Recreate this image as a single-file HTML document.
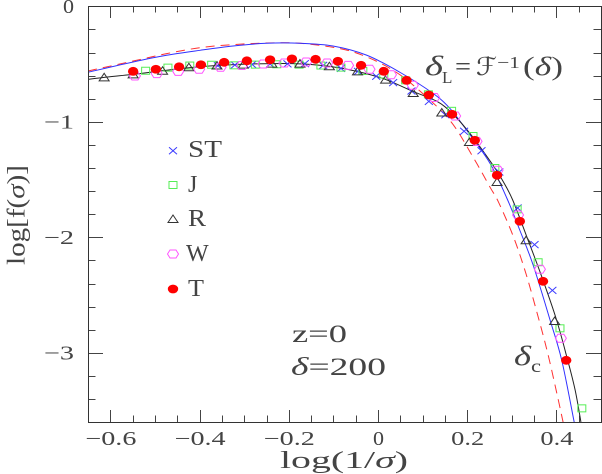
<!DOCTYPE html>
<html>
<head>
<meta charset="utf-8">
<title>log f(sigma) chart</title>
<style>
html,body{margin:0;padding:0;background:#fff;}
svg{display:block;}
text{font-family:"Liberation Serif",serif;fill:#444;}
</style>
</head>
<body>
<svg id="chart" xmlns="http://www.w3.org/2000/svg" width="602" height="474" viewBox="0 0 602 474">
<rect x="0" y="0" width="602" height="474" fill="#fff"/>
<g id="ticks"></g>
<g id="curves" clip-path="url(#plot-clip)"></g>
<g id="points"></g>
<rect x="88.5" y="6.5" width="513" height="416" fill="none" stroke="#333" stroke-width="1"/>
<g id="tick-labels"></g>

<text x="280" y="468" font-size="24" textLength="128" lengthAdjust="spacingAndGlyphs">log(1/<tspan font-style="italic">σ</tspan>)</text>
<text transform="translate(24.5,265) rotate(-90)" font-size="25" textLength="100" lengthAdjust="spacingAndGlyphs">log[f(<tspan font-style="italic">σ</tspan>)]</text>

<g id="legend">
<text x="188" y="157" font-size="24" textLength="34" lengthAdjust="spacingAndGlyphs">ST</text>
<text x="188" y="192" font-size="24">J</text>
<text x="188" y="226" font-size="24" textLength="18" lengthAdjust="spacingAndGlyphs">R</text>
<text x="186" y="261" font-size="24">W</text>
<text x="188" y="296" font-size="24" textLength="16" lengthAdjust="spacingAndGlyphs">T</text>
</g>

<g>
<text x="425" y="75" font-size="27" font-style="italic" textLength="18" lengthAdjust="spacingAndGlyphs">δ</text>
<text x="442" y="83" font-size="17">L</text>
<text x="455" y="75" font-size="26" textLength="16" lengthAdjust="spacingAndGlyphs">=</text>
<text x="476" y="75" font-size="25" style="font-family:'DejaVu Serif','DejaVu Sans',serif" font-style="italic" textLength="21" lengthAdjust="spacingAndGlyphs">ℱ</text>
<text x="497" y="68" font-size="17" textLength="23" lengthAdjust="spacingAndGlyphs">−1</text>
<text x="523" y="75" font-size="26" textLength="40" lengthAdjust="spacingAndGlyphs">(<tspan font-style="italic">δ</tspan>)</text>
</g>
<g>
<text x="514" y="365" font-size="27" font-style="italic" textLength="17" lengthAdjust="spacingAndGlyphs">δ</text>
<text x="531" y="372" font-size="18" textLength="10" lengthAdjust="spacingAndGlyphs">c</text>
</g>
<text x="292" y="342" font-size="25" textLength="55" lengthAdjust="spacingAndGlyphs">z=0</text>
<text x="291" y="375" font-size="25" textLength="95" lengthAdjust="spacingAndGlyphs"><tspan font-style="italic">δ</tspan>=200</text>
<defs><clipPath id="plot-clip"><rect x="88" y="6" width="514" height="416.5"/></clipPath></defs>
</svg>
<script>
// Axis tick values and labels
const xTickLabels = ["−0.6", "−0.4", "−0.2", "0", "0.2", "0.4"];
const xTickValues = [-0.6, -0.4, -0.2, 0, 0.2, 0.4];
const yTickLabels = ["0", "−1", "−2", "−3"];
const yTickValues = [0, -1, -2, -3];

// Fitted curves: log(1/sigma), log f(sigma)
const blackCurveX = [-0.650,-0.614,-0.549,-0.484,-0.424,-0.361,-0.303,-0.238,-0.175,-0.110,-0.047,0.016,0.078,0.132,0.166,0.206,0.258,0.280,0.302,0.333,0.365,0.399,0.424,0.442,0.455];
const blackCurveY = [-0.632,-0.615,-0.589,-0.558,-0.532,-0.513,-0.502,-0.496,-0.498,-0.519,-0.563,-0.632,-0.736,-0.823,-0.926,-1.100,-1.377,-1.513,-1.677,-1.989,-2.318,-2.699,-3.045,-3.322,-3.599];
const blueCurveX = [-0.650,-0.549,-0.474,-0.399,-0.325,-0.250,-0.175,-0.101,-0.025,0.049,0.123,0.161,0.199,0.251,0.289,0.318,0.348,0.386,0.412,0.440];
const blueCurveY = [-0.571,-0.482,-0.424,-0.381,-0.344,-0.320,-0.320,-0.344,-0.424,-0.571,-0.753,-0.883,-1.074,-1.359,-1.662,-1.939,-2.242,-2.719,-3.065,-3.602];
const redCurveX = [-0.650,-0.549,-0.474,-0.399,-0.325,-0.250,-0.175,-0.085,-0.025,0.034,0.087,0.161,0.213,0.251,0.270,0.303,0.332,0.361,0.381,0.401,0.415];
const redCurveY = [-0.560,-0.474,-0.410,-0.358,-0.332,-0.318,-0.320,-0.366,-0.439,-0.554,-0.710,-0.987,-1.305,-1.565,-1.694,-1.989,-2.318,-2.716,-3.011,-3.351,-3.600];

// Point series
const stX = [-0.359,-0.321,-0.282,-0.242,-0.203,-0.164,-0.123,-0.083,-0.045,-0.004,0.034,0.075,0.114,0.151,0.193,0.232,0.272,0.313,0.351,0.391];
const stY = [-0.515,-0.508,-0.504,-0.500,-0.498,-0.496,-0.511,-0.537,-0.563,-0.606,-0.661,-0.733,-0.823,-0.939,-1.082,-1.251,-1.435,-1.746,-2.063,-2.459];
const jX = [-0.521,-0.471,-0.422,-0.373,-0.323,-0.275,-0.227,-0.177,-0.128,-0.083,-0.034,0.013,0.062,0.113,0.165,0.213,0.262,0.312,0.359,0.408,0.457];
const jY = [-0.558,-0.531,-0.513,-0.506,-0.511,-0.505,-0.502,-0.505,-0.513,-0.531,-0.560,-0.591,-0.641,-0.762,-0.905,-1.123,-1.400,-1.758,-2.216,-2.788,-3.481];
const rX = [-0.614,-0.549,-0.483,-0.424,-0.361,-0.302,-0.238,-0.175,-0.109,-0.046,0.017,0.079,0.143,0.205,0.267,0.332,0.396];
const rY = [-0.615,-0.589,-0.558,-0.528,-0.513,-0.505,-0.496,-0.496,-0.519,-0.563,-0.635,-0.751,-0.920,-1.175,-1.521,-2.026,-2.725];
const wX = [-0.545,-0.496,-0.448,-0.401,-0.353,-0.305,-0.257,-0.210,-0.161,-0.114,-0.067,-0.019,0.029,0.078,0.126,0.173,0.221,0.268,0.314,0.363,0.410];
const wY = [-0.603,-0.583,-0.563,-0.545,-0.528,-0.513,-0.500,-0.491,-0.482,-0.491,-0.511,-0.545,-0.593,-0.684,-0.790,-0.950,-1.169,-1.420,-1.807,-2.277,-2.874];
const tX = [-0.549,-0.498,-0.446,-0.397,-0.345,-0.294,-0.242,-0.193,-0.140,-0.090,-0.038,0.013,0.064,0.114,0.166,0.217,0.267,0.318,0.370,0.422];
const tY = [-0.563,-0.545,-0.524,-0.506,-0.485,-0.472,-0.463,-0.455,-0.459,-0.476,-0.511,-0.563,-0.641,-0.768,-0.935,-1.160,-1.463,-1.861,-2.381,-3.065];

const NS = 'http://www.w3.org/2000/svg';
const sx = v => 378 + 446 * v;
const sy = v => 6.3 - 115.5 * v;
function make(parent, tag, attrs) {
  const el = document.createElementNS(NS, tag);
  for (const k in attrs) el.setAttribute(k, attrs[k]);
  parent.appendChild(el);
  return el;
}

// Ticks
const ticksG = document.getElementById('ticks');
function tickSeg(x1, y1, x2, y2) {
  const t = make(ticksG, 'line', {x1: x1, y1: y1, x2: x2, y2: y2, stroke: '#444', 'stroke-width': 1});
  
  
}
for (let i = -13; i <= 10; i++) {
  const px = Math.round(sx(i * 0.05)) + 0.5;
  const len = (i % 4 === 0) ? 12 : 6.5;
  tickSeg(px, 422, px, 422 - len);
  tickSeg(px, 6, px, 6 + len);
}
for (let i = 1; i <= 18; i++) {
  const py = Math.round(sy(-i * 0.2)) + 0.5;
  const len = (i % 5 === 0) ? 15 : 7.5;
  tickSeg(88, py, 88 + len, py);
  tickSeg(601, py, 601 - len, py);
}

// Tick labels
const labelsG = document.getElementById('tick-labels');
xTickValues.forEach((v, i) => {
  const s = xTickLabels[i];
  const width = s.length === 4 ? 51 : (s.length === 3 ? 33 : 11);
  const rightEdge = s.length === 4 ? sx(v) + 26 : (s.length === 3 ? sx(v) + 17 : sx(v) + 6);
  const t = make(labelsG, 'text', {x: rightEdge - width, y: 445, 'font-size': 20, textLength: width, lengthAdjust: 'spacingAndGlyphs'});
  t.textContent = s;
  
  
});
yTickValues.forEach((v, i) => {
  const s = yTickLabels[i];
  const width = s.length === 2 ? 30 : 11;
  const t = make(labelsG, 'text', {x: 74 - width, y: sy(v) + 6.5, 'font-size': 20, textLength: width, lengthAdjust: 'spacingAndGlyphs'});
  t.textContent = s;
  
  
});

// Curves (Catmull-Rom smoothing through the read values)
function curvePath(xs, ys) {
  const p = xs.map((x, i) => [sx(x), sy(ys[i])]);
  let d = 'M' + p[0][0].toFixed(2) + ' ' + p[0][1].toFixed(2);
  for (let i = 0; i < p.length - 1; i++) {
    const a = p[Math.max(i - 1, 0)], b = p[i], c = p[i + 1], e = p[Math.min(i + 2, p.length - 1)];
    const c1x = b[0] + (c[0] - a[0]) / 6, c1y = b[1] + (c[1] - a[1]) / 6;
    const c2x = c[0] - (e[0] - b[0]) / 6, c2y = c[1] - (e[1] - b[1]) / 6;
    d += 'C' + c1x.toFixed(2) + ' ' + c1y.toFixed(2) + ' ' + c2x.toFixed(2) + ' ' + c2y.toFixed(2) + ' ' + c[0].toFixed(2) + ' ' + c[1].toFixed(2);
  }
  return d;
}
const curvesG = document.getElementById('curves');
const redLine = make(curvesG, 'path', {d: curvePath(redCurveX, redCurveY), fill: 'none', stroke: '#ff3030', 'stroke-width': 1, 'stroke-dasharray': '9 6'});


const blueLine = make(curvesG, 'path', {d: curvePath(blueCurveX, blueCurveY), fill: 'none', stroke: '#3030ff', 'stroke-width': 1});


const blackLine = make(curvesG, 'path', {d: curvePath(blackCurveX, blackCurveY), fill: 'none', stroke: '#222', 'stroke-width': 1});



// Marker drawers
function drawCross(parent, x, y) {
  return make(parent, 'path', {d: `M${x-4} ${y-3.5}L${x+4} ${y+3.5}M${x-4} ${y+3.5}L${x+4} ${y-3.5}`, fill: 'none', stroke: '#3a3aff', 'stroke-width': 1});
}
function drawSquare(parent, x, y) {
  return make(parent, 'rect', {x: x - 4, y: y - 3.5, width: 8, height: 7, fill: 'none', stroke: '#55ee55', 'stroke-width': 1});
}
function drawTriangle(parent, x, y) {
  return make(parent, 'path', {d: `M${x-5} ${y+3.5}L${x+5} ${y+3.5}L${x} ${y-4}Z`, fill: 'none', stroke: '#333', 'stroke-width': 1});
}
function drawHex(parent, x, y) {
  return make(parent, 'path', {d: `M${x-5.5} ${y}L${x-3} ${y-4}L${x+3} ${y-4}L${x+5.5} ${y}L${x+3} ${y+4}L${x-3} ${y+4}Z`, fill: 'none', stroke: '#ff55ff', 'stroke-width': 1});
}
function drawDot(parent, x, y) {
  return make(parent, 'ellipse', {cx: x, cy: y, rx: 5.2, ry: 4.4, fill: '#ff0000'});
}

const pointsG = document.getElementById('points');
stX.forEach((v, i) => {
  const m = drawCross(pointsG, sx(v), sy(stY[i]));
  
  
});
jX.forEach((v, i) => {
  const m = drawSquare(pointsG, sx(v), sy(jY[i]));
  
  
});
rX.forEach((v, i) => {
  const m = drawTriangle(pointsG, sx(v), sy(rY[i]));
  
  
});
wX.forEach((v, i) => {
  const m = drawHex(pointsG, sx(v), sy(wY[i]));
  
  
});
tX.forEach((v, i) => {
  const m = drawDot(pointsG, sx(v), sy(tY[i]));
  
  
});

// Legend markers
const legendG = document.getElementById('legend');
const legendSt = drawCross(legendG, 173, 150.7);


const legendJ = drawSquare(legendG, 173, 185);


const legendR = drawTriangle(legendG, 173, 219);


const legendW = drawHex(legendG, 173, 254);


const legendT = drawDot(legendG, 173, 289);


</script>
</body>
</html>
